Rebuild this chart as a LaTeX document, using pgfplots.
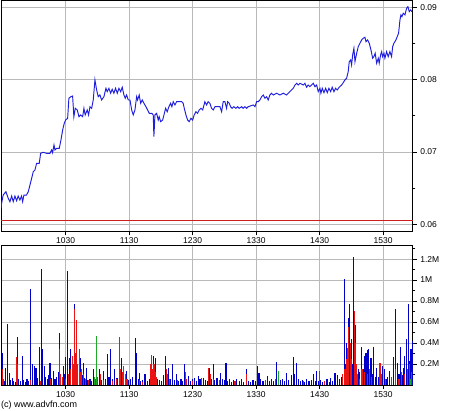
\documentclass[border=0pt]{standalone}
\usepackage{pgfplots}
\pgfplotsset{compat=1.18}
\usepackage{fontspec}
\setmainfont{Liberation Sans}
\definecolor{priceblue}{RGB}{30,30,220}
\definecolor{volblue}{RGB}{0,0,200}
\definecolor{volred}{RGB}{235,20,20}
\definecolor{volgreen}{RGB}{30,170,40}
\definecolor{limred}{RGB}{205,30,30}
\definecolor{gridgray}{RGB}{185,185,185}
\pgfplotsset{
  advfn/.style={
    scale only axis,
    xmin=-1, xmax=388,
    xtick={60,120,180,240,300,360},
    xticklabels={1030,1130,1230,1330,1430,1530},
    xtick pos=bottom, ytick pos=right, yticklabel pos=right,
    scaled x ticks=false, scaled y ticks=false,
    tick align=outside,
    major tick length=4pt, minor tick length=2.5pt,
    grid=major, major grid style={gridgray, line width=0.6pt},
    axis line style={black, line width=0.7pt},
    tick style={black, line width=0.6pt},
    ticklabel style={font=\fontsize{8.5}{10}\selectfont},
    xticklabel style={yshift=1pt},
  }
}
\begin{document}
\begin{tikzpicture}[x=1pt,y=1pt]
\path[use as bounding box] (0,0) rectangle (449,-411);
% ---------------- price panel ----------------
\begin{axis}[advfn,
  at={(1,0)}, anchor=north west,
  width=411.7pt, height=231.5pt,
  ymin=0.059, ymax=0.091,
  ytick={0.06,0.07,0.08,0.09},
  yticklabels={0.06,0.07,0.08,0.09},
  minor ytick={0.065,0.075,0.085},
]
\addplot[limred, line width=0.8pt] coordinates {(-1,0.06058) (388,0.06058)};
\addplot[priceblue, line width=0.95pt] coordinates {
(-1,0.06220) (-0.5,0.06289) (1.0,0.06404) (3.6,0.06450) (5.8,0.06359) (7.4,0.06312)
(9.0,0.06390) (10.5,0.06312) (12.1,0.06390) (13.7,0.06325) (15.2,0.06390) (16.8,0.06335)
(18.4,0.06390) (19.4,0.06312) (20.6,0.06404) (23.1,0.06404) (24.7,0.06450) (26.3,0.06542)
(27.9,0.06635) (29.4,0.06726) (31.0,0.06750) (32.6,0.06843) (35.1,0.06843) (36.4,0.06981)
(38.8,0.06995) (42.0,0.06981) (45.2,0.06981) (46.8,0.07027) (47.7,0.06989) (49.0,0.07096)
(49.9,0.07027) (51.5,0.07050) (54.0,0.07050) (55.6,0.07165) (57.2,0.07303) (58.7,0.07396)
(60.0,0.07441) (61.9,0.07465) (63.1,0.07742) (65.0,0.07764) (66.6,0.07773) (67.8,0.07487)
(69.1,0.07603) (71.0,0.07580) (72.6,0.07487) (74.2,0.07511) (76.1,0.07487) (77.3,0.07603)
(78.5,0.07511) (80.4,0.07580) (81.7,0.07511) (83.0,0.07625) (84.6,0.07603) (86.1,0.07718)
(87.7,0.07995) (89.3,0.07856) (90.8,0.07764) (92.4,0.07787) (94.0,0.07718) (96.2,0.07764)
(98.1,0.07880) (99.3,0.07833) (100.9,0.07880) (102.5,0.07811) (104.0,0.07866) (105.6,0.07811)
(107.2,0.07880) (108.8,0.07811) (110.4,0.07880) (112.0,0.07833) (113.5,0.07894) (115.1,0.07787)
(116.3,0.07742) (117.6,0.07787) (119.2,0.07718) (120.8,0.07718) (122.4,0.07580) (123.9,0.07511)
(125.5,0.07580) (127.1,0.07764) (128.0,0.07718) (129.5,0.07787) (130.9,0.07672) (132.4,0.07718)
(134.0,0.07672) (135.9,0.07625) (137.5,0.07580) (139.0,0.07534) (141.3,0.07534) (142.8,0.07511)
(143.4,0.07210) (144.4,0.07511) (146.0,0.07534) (147.5,0.07441) (148.4,0.07487) (149.8,0.07418)
(151.7,0.07441) (152.9,0.07511) (154.5,0.07603) (156.0,0.07556) (157.6,0.07625) (159.2,0.07672)
(160.4,0.07625) (161.7,0.07695) (163.3,0.07649) (164.9,0.07695) (167.1,0.07695) (169.6,0.07695)
(171.1,0.07672) (172.1,0.07603) (173.7,0.07511) (175.3,0.07441) (176.8,0.07418) (178.4,0.07465)
(180.0,0.07441) (181.5,0.07511) (183.1,0.07556) (184.7,0.07534) (186.2,0.07580) (187.9,0.07603)
(189.5,0.07580) (191.6,0.07695) (193.2,0.07649) (194.7,0.07695) (196.3,0.07672) (197.9,0.07603)
(199.5,0.07580) (201.1,0.07625) (205.8,0.07625) (207.4,0.07556) (208.9,0.07695) (210.5,0.07695)
(212.1,0.07603) (213.1,0.07695) (214.6,0.07672) (215.9,0.07625) (217.4,0.07603) (219.0,0.07625)
(220.9,0.07603) (222.5,0.07625) (224.0,0.07603) (226.3,0.07625) (227.8,0.07603) (229.4,0.07625)
(231.0,0.07603) (232.5,0.07625) (237.3,0.07649) (238.9,0.07625) (240.5,0.07695) (242.0,0.07695)
(243.6,0.07718) (245.2,0.07764) (246.7,0.07787) (248.3,0.07742) (249.9,0.07764) (251.4,0.07718)
(253.0,0.07787) (254.6,0.07811) (256.2,0.07787) (259.4,0.07811) (262.5,0.07787) (265.6,0.07811)
(268.8,0.07787) (270.3,0.07811) (271.9,0.07833) (273.5,0.07856) (275.1,0.07880) (276.7,0.07925)
(278.3,0.07949) (279.8,0.07925) (281.4,0.07949) (284.5,0.07925) (286.1,0.07949) (287.7,0.07894)
(289.2,0.07925) (290.8,0.07902) (292.4,0.07925) (294.0,0.07949) (295.6,0.07902) (297.2,0.07925)
(298.7,0.07833) (300.3,0.07880) (301.2,0.07811) (302.5,0.07880) (304.1,0.07819) (305.7,0.07880)
(307.2,0.07819) (308.8,0.07880) (310.4,0.07833) (311.9,0.07894) (313.5,0.07833) (315.1,0.07880)
(316.6,0.07856) (318.5,0.07894) (320.8,0.07925) (322.3,0.07957) (323.9,0.07995) (325.5,0.08018)
(327.0,0.08109) (328.0,0.08248) (329.3,0.08271) (330.2,0.08202) (331.2,0.08340) (332.4,0.08433)
(333.4,0.08248) (335.0,0.08364) (336.5,0.08455) (338.1,0.08502) (339.7,0.08548) (341.2,0.08571)
(342.8,0.08585) (343.8,0.08524) (345.4,0.08548) (346.9,0.08502) (348.5,0.08410) (350.1,0.08295)
(351.3,0.08317) (352.5,0.08364) (353.9,0.08226) (355.4,0.08295) (356.3,0.08226) (357.6,0.08340)
(358.6,0.08386) (359.5,0.08317) (360.8,0.08364) (361.7,0.08295) (363.3,0.08386) (364.8,0.08317)
(366.4,0.08386) (368.0,0.08317) (369.0,0.08455) (370.2,0.08502) (372.1,0.08548) (373.3,0.08593)
(374.6,0.08640) (375.9,0.08824) (376.8,0.08894) (377.8,0.08870) (379.0,0.08917) (380.6,0.08894)
(382.2,0.08986) (383.4,0.09008) (384.7,0.08939) (386.0,0.08963) (387.2,0.08939)
};
\end{axis}
% ---------------- volume panel ----------------
\begin{axis}[advfn,
  at={(1,-234)}, anchor=north west,
  width=411.7pt, height=139.5pt,
  ymin=0, ymax=1330000,
  ytick={200000,400000,600000,800000,1000000,1200000},
  yticklabels={0.2M,0.4M,0.6M,0.8M,1M,1.2M},
  minor ytick={100000,300000,500000,700000,900000,1100000,1300000},
]
\addplot[volblue, ycomb, line width=1.1pt] coordinates {
(0,309000) (1,60000) (2,40000) (3.6,166000) (4.8,580000) (5.5,80000) (6.7,118000) (8,50000)
(9.5,70000) (11,40000) (12.5,30000) (14.3,458000) (15.5,60000) (17,40000) (19,277000) (20.5,50000)
(22,30000) (23.5,60000) (25,40000) (26.6,915000) (28.4,197000) (30.3,181000) (32,166000) (33.5,70000)
(35.1,357000) (37,1106000) (38.3,341000) (39.8,181000) (41,80000) (42.5,60000) (44,90000) (45.2,213000)
(46.5,70000) (48.3,133000) (50,60000) (51.5,80000) (53,120000) (54,491000) (55.5,90000) (57.7,181000)
(59,100000) (60.3,271000) (61.9,1084000) (63.4,261000) (65,341000) (66.6,150000) (68.1,771000) (69.5,120000)
(71,100000) (72.9,200000) (74.2,261000) (75.5,90000) (76.6,213000) (78,70000) (79.8,166000) (81,50000)
(83,60000) (84.5,40000) (86.1,149000) (87.5,80000) (90,60000) (92.4,149000) (94,50000) (95.6,133000)
(97.5,60000) (99.3,293000) (101,80000) (102.5,341000) (104,60000) (106.6,149000) (108.5,70000) (110.7,200000)
(112.9,261000) (115.1,181000) (117.6,133000) (119.5,50000) (121.5,60000) (123.5,80000) (125.8,446000) (127.1,309000)
(128.5,60000) (129.6,118000) (131,40000) (133,50000) (135,102000) (137,40000) (139,60000) (141.3,150000)
(142.8,277000) (144,90000) (145.3,261000) (147,60000) (149,50000) (151,40000) (152.5,90000) (154.5,277000)
(156,70000) (157,166000) (159,60000) (160.7,197000) (162.5,50000) (164.8,102000) (167,40000) (169,60000)
(170.5,40000) (172.7,197000) (174,50000) (175.8,86000) (178,40000) (180,60000) (181.5,70000) (183.5,40000)
(185.3,86000) (187,60000) (188.5,40000) (190,70000) (192,50000) (194,40000) (196.3,166000) (198,60000)
(199.5,197000) (201,50000) (203,70000) (205,40000) (206.7,118000) (208.5,60000) (210,50000) (211.5,213000)
(213,40000) (215,60000) (217,30000) (219,50000) (221.5,54000) (224,40000) (226,60000) (228,30000)
(231,149000) (233,40000) (235,30000) (237,50000) (239.5,40000) (241.4,181000) (242.7,118000) (244.5,60000)
(246.5,40000) (248.5,50000) (250.5,86000) (252.5,40000) (254.5,60000) (256.5,40000) (259.4,219000) (261,80000)
(263,50000) (265,60000) (267,40000) (269,118000) (271,50000) (273,90000) (275.1,271000) (276.5,100000)
(278.3,213000) (280,60000) (282,40000) (284,50000) (286,30000) (288,60000) (290,40000) (292,50000)
(294,101000) (296,40000) (297.2,133000) (299,40000) (301,50000) (303,30000) (305,40000) (307,60000)
(309,30000) (310,70000) (312,40000) (314.5,118000) (317,92000) (319,60000) (321,80000) (323.3,1011000)
(324.3,200000) (325.2,398000) (326.5,300000) (327.7,637000) (328.6,771000) (329.5,250000) (330.2,436000) (331,200000)
(331.8,1218000) (332.7,653000) (334,570000) (335.2,150000) (336.5,149000) (338,120000) (339.7,366000) (341,150000)
(342.2,277000) (343.8,309000) (345,334000) (346.6,341000) (347.5,150000) (348.5,261000) (350,100000) (351.3,366000)
(352.5,80000) (353.8,166000) (355.5,80000) (357,100000) (359.1,181000) (361,149000) (363,60000) (364.5,80000)
(365.7,133000) (367.5,60000) (369.6,271000) (371.8,723000) (373.7,213000) (375,100000) (376.8,357000) (378,90000)
(379,166000) (380.6,277000) (382.2,436000) (383.7,771000) (384.7,229000) (386.3,341000) (387.5,420000)
};
\addplot[volred, ycomb, line width=1.1pt] coordinates {
(0,149000) (1.5,60000) (13.5,267000) (14.3,200000) (27,50000) (36,40000) (46,60000) (54,341000)
(55,100000) (57,80000) (60,60000) (63,100000) (64.2,150000) (66.6,277000) (67.5,200000) (68.1,723000)
(69,300000) (70.4,618000) (71.5,200000) (72.9,341000) (74,120000) (75,150000) (77,100000) (78.5,60000)
(82,50000) (88,60000) (90,80000) (93,100000) (96,50000) (104,40000) (108,60000) (110.7,453000)
(111.5,150000) (113.5,120000) (115,180000) (116.5,100000) (118,60000) (130,50000) (133,30000) (140.5,200000)
(141.3,283000) (142,150000) (143.5,200000) (144.5,120000) (146,80000) (155,150000) (156,100000) (158,60000)
(166,50000) (173,120000) (174.5,60000) (180,40000) (188,70000) (195,166000) (197,100000) (200,60000)
(205,50000) (220,40000) (231,100000) (249,50000) (258,60000) (285,40000) (299.6,133000) (305,40000)
(322,100000) (324,150000) (325.5,250000) (326.8,350000) (327.7,550000) (328.8,400000) (330.5,250000) (332.7,707000)
(333.5,400000) (334.5,200000) (336,100000) (337.5,60000) (340,150000) (342,120000) (345,100000) (347,150000)
(349,80000) (357,213000) (358,100000) (362,60000) (368,80000) (372,150000) (375,60000) (377,120000)
(380,100000) (383,150000) (385,200000) (386.8,120000)
};
\addplot[volgreen, ycomb, line width=1.1pt] coordinates {
(87.5,80000) (88.9,462000) (261,133000) (385.5,60000)
};
\end{axis}
\node[anchor=west, font=\fontsize{9}{11}\selectfont, inner sep=0pt] at (1,-405.5) {(c) www.advfn.com};
\end{tikzpicture}
\end{document}
